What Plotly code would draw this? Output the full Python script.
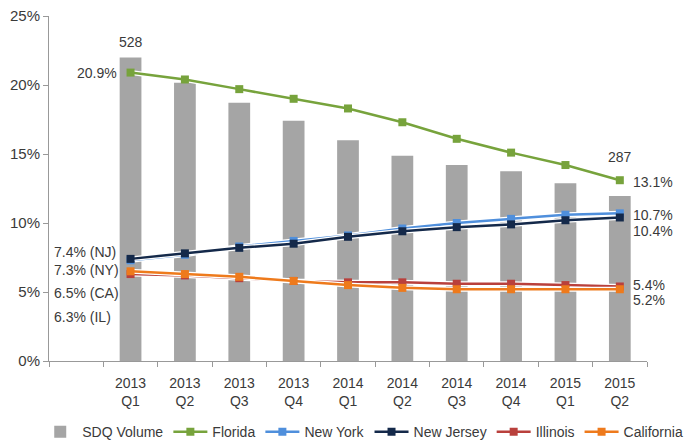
import plotly.graph_objects as go

# Quarters (a blank leading slot leaves room for the start-of-series labels)
quarters = ["2013<br>Q1", "2013<br>Q2", "2013<br>Q3", "2013<br>Q4", "2014<br>Q1",
            "2014<br>Q2", "2014<br>Q3", "2014<br>Q4", "2015<br>Q1", "2015<br>Q2"]
blank_slot = " "

sdq_volume = [528, 484, 449, 418, 384, 357, 341, 330, 309, 287]
florida = [20.9, 20.4, 19.7, 19.0, 18.3, 17.3, 16.1, 15.1, 14.2, 13.1]
new_york = [7.3, 7.7, 8.3, 8.7, 9.1, 9.6, 10.0, 10.3, 10.6, 10.7]
new_jersey = [7.4, 7.8, 8.2, 8.5, 9.0, 9.4, 9.7, 9.9, 10.2, 10.4]
illinois = [6.3, 6.2, 6.0, 5.8, 5.7, 5.7, 5.6, 5.6, 5.5, 5.4]
california = [6.5, 6.3, 6.1, 5.8, 5.5, 5.3, 5.2, 5.2, 5.2, 5.2]

y_ticks = [0, 5, 10, 15, 20, 25]
y_tick_labels = ["0%", "5%", "10%", "15%", "20%", "25%"]

FONT = "Liberation Sans, Arial, sans-serif"
TXT = "#3a3a3a"

fig = go.Figure()

# Volume bars sit on the (hidden) primary axis so the rate lines draw above them
fig.add_trace(go.Bar(
    x=quarters, y=sdq_volume, name="SDQ Volume", yaxis="y",
    marker=dict(color="#a5a5a5", line=dict(width=0)), width=0.4,
))

series = [
    ("Florida", florida, "#77a33c"),
    ("New York", new_york, "#4f8fdc"),
    ("New Jersey", new_jersey, "#14294a"),
    ("Illinois", illinois, "#b9403c"),
    ("California", california, "#ee7a1c"),
]
for name, vals, col in series:
    # white halo under each line
    fig.add_trace(go.Scatter(
        x=quarters, y=vals, mode="lines", showlegend=False, hoverinfo="skip",
        yaxis="y2", line=dict(color="white", width=5),
    ))
    fig.add_trace(go.Scatter(
        x=quarters, y=vals, name=name, mode="lines+markers", yaxis="y2",
        line=dict(color=col, width=2.5),
        marker=dict(symbol="square", size=8, color=col),
    ))

annotations = []
# Volume labels on first and last bars
annotations.append(dict(x=quarters[0], y=sdq_volume[0], yref="y", text=str(sdq_volume[0]),
                        showarrow=False, yanchor="middle", yshift=15,
                        font=dict(size=14, color=TXT)))
annotations.append(dict(x=quarters[-1], y=sdq_volume[-1], yref="y", text=str(sdq_volume[-1]),
                        showarrow=False, yanchor="middle", yshift=39,
                        font=dict(size=14, color=TXT)))

# Florida start / end
annotations.append(dict(x=quarters[0], y=florida[0], yref="y2", text=f"{florida[0]}%",
                        showarrow=False, xanchor="right", xshift=-12,
                        font=dict(size=14, color=TXT)))
annotations.append(dict(x=quarters[-1], y=florida[-1], yref="y2", text=f"{florida[-1]}%",
                        showarrow=False, xanchor="left", xshift=11, yshift=-2,
                        font=dict(size=14, color=TXT)))

# End labels for the other states
for vals, ysh in ((new_york, -2), (new_jersey, -14), (illinois, 1), (california, -11)):
    annotations.append(dict(x=quarters[-1], y=vals[-1], yref="y2", text=f"{vals[-1]}%",
                            showarrow=False, xanchor="left", xshift=11, yshift=ysh,
                            font=dict(size=14, color=TXT)))

# Start labels, stacked in the blank slot
start_labels = [
    (new_jersey[0], "NJ", 7),
    (new_york[0], "NY", -10),
    (california[0], "CA", -22),
    (illinois[0], "IL", -43),
]
for val, code, ysh in start_labels:
    annotations.append(dict(x=blank_slot, y=val, yref="y2", text=f"{val}% ({code})",
                            showarrow=False, xanchor="left", xshift=-24, yshift=ysh,
                            font=dict(size=14, color=TXT)))

fig.update_layout(
    width=699, height=448,
    margin=dict(l=49, r=52, t=16, b=87, autoexpand=False),
    paper_bgcolor="white", plot_bgcolor="white",
    font=dict(family=FONT, size=14, color=TXT),
    xaxis=dict(
        type="category", categoryorder="array",
        categoryarray=[blank_slot] + quarters,
        range=[-0.5, len(quarters) + 0.5],
        tickson="boundaries", ticks="outside", ticklen=5, tickcolor="#999",
        showline=True, linecolor="#999", linewidth=1,
        showgrid=False, tickfont=dict(size=14, color=TXT),
        ticklabelstandoff=9,
    ),
    yaxis=dict(range=[0, 600], visible=False),
    yaxis2=dict(
        range=[0, 25], tickvals=y_ticks, ticktext=y_tick_labels,
        overlaying="y", side="left",
        ticks="outside", ticklen=5, tickcolor="#999",
        showline=True, linecolor="#999", linewidth=1,
        showgrid=False, zeroline=False, tickfont=dict(size=15, color=TXT),
    ),
    legend=dict(
        orientation="h", x=-0.018, xanchor="left", xref="paper",
        y=-0.206, yanchor="middle", font=dict(size=14, color=TXT),
        itemwidth=34, tracegroupgap=0,
    ),
    annotations=annotations,
)

fig.write_html("out.html")
